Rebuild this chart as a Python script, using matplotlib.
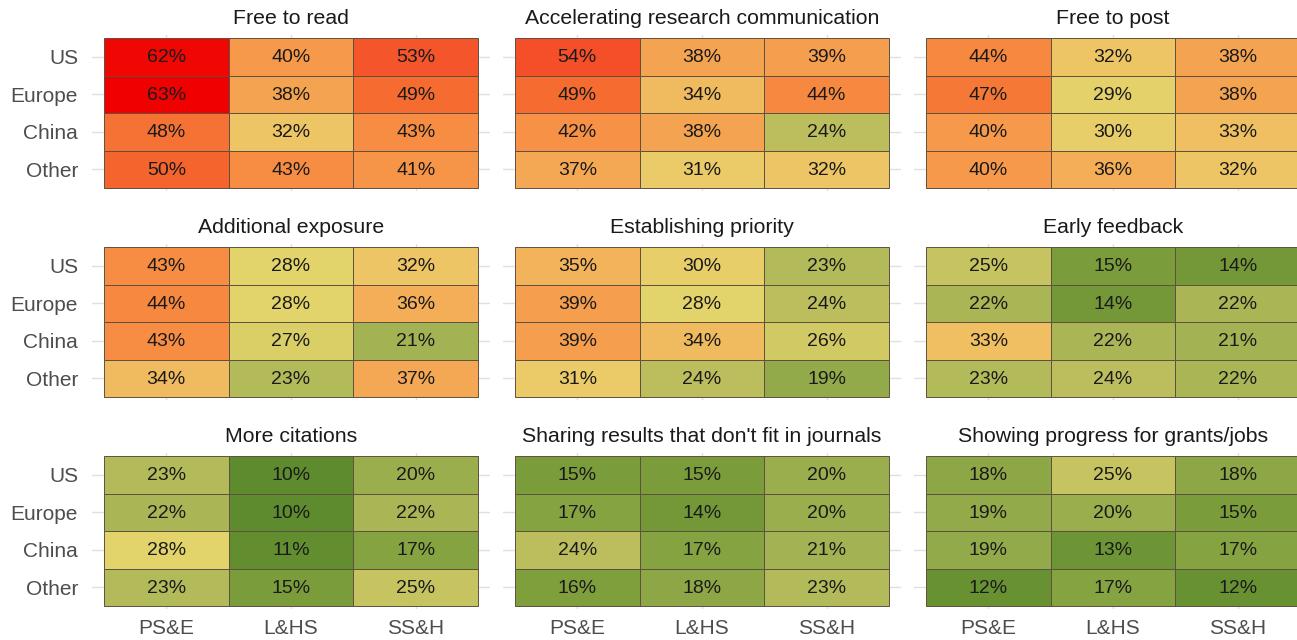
import numpy as np
import matplotlib.pyplot as plt
from matplotlib.colors import LinearSegmentedColormap

plt.rcParams["font.family"] = ["Liberation Sans", "DejaVu Sans"]

regions = ["US", "Europe", "China", "Other"]
fields = ["PS&E", "L&HS", "SS&H"]

titles = [
    "Free to read", "Accelerating research communication", "Free to post",
    "Additional exposure", "Establishing priority", "Early feedback",
    "More citations", "Sharing results that don't fit in journals",
    "Showing progress for grants/jobs",
]

# rows: US, Europe, China, Other; columns: PS&E, L&HS, SS&H
free_to_read = [[62, 40, 53], [63, 38, 49], [48, 32, 43], [50, 43, 41]]
accelerating = [[54, 38, 39], [49, 34, 44], [42, 38, 24], [37, 31, 32]]
free_to_post = [[44, 32, 38], [47, 29, 38], [40, 30, 33], [40, 36, 32]]
exposure = [[43, 28, 32], [44, 28, 36], [43, 27, 21], [34, 23, 37]]
priority = [[35, 30, 23], [39, 28, 24], [39, 34, 26], [31, 24, 19]]
feedback = [[25, 15, 14], [22, 14, 22], [33, 22, 21], [23, 24, 22]]
citations = [[23, 10, 20], [22, 10, 22], [28, 11, 17], [23, 15, 25]]
sharing = [[15, 15, 20], [17, 14, 20], [24, 17, 21], [16, 18, 23]]
progress = [[18, 25, 18], [19, 20, 15], [19, 13, 17], [12, 17, 12]]

panels = [free_to_read, accelerating, free_to_post, exposure, priority,
          feedback, citations, sharing, progress]

vmin, vmax = 10, 63
stops = [(10, "#5e8b2e"), (15, "#7a9c3a"), (20, "#9aae4e"), (24, "#bdbe5e"),
         (28, "#e3d46a"), (31, "#ebcb68"), (35, "#f2b35a"), (40, "#f6994a"),
         (45, "#f7843e"), (50, "#f5652d"), (54, "#f5502a"), (63, "#f00000")]
cmap = LinearSegmentedColormap.from_list(
    "pref", [((v - vmin) / (vmax - vmin), c) for v, c in stops])

W, H = 1297, 640
fig = plt.figure(figsize=(W / 100, H / 100), dpi=100)

col_left = [104, 515, 926]
tile_w = 374
row_top = [38, 247, 456]
tile_h = 150
padx, pady = 12, 3

for i, (title, vals) in enumerate(zip(titles, panels)):
    r, c = divmod(i, 3)
    x0 = col_left[c] - padx
    y0 = row_top[r] - pady
    w = tile_w + 2 * padx
    h = tile_h + 2 * pady
    ax = fig.add_axes([x0 / W, 1 - (y0 + h) / H, w / W, h / H])
    arr = np.array(vals)
    ax.set_xlim(-0.5 - padx / (tile_w / 3), 2.5 + padx / (tile_w / 3))
    ax.set_ylim(3.5 + pady / (tile_h / 4), -0.5 - pady / (tile_h / 4))
    for k in range(3):
        ax.axvline(k, color="#e0e0e0", lw=1, zorder=0)
    for k in range(4):
        ax.axhline(k, color="#e0e0e0", lw=1, zorder=0)
    for ri in range(4):
        for ci in range(3):
            v = arr[ri, ci]
            ax.add_patch(plt.Rectangle((ci - 0.5, ri - 0.5), 1, 1,
                                       facecolor=cmap((v - vmin) / (vmax - vmin)),
                                       edgecolor="#5f5040", lw=0.7, zorder=2))
            ax.text(ci, ri + 0.03, f"{v}%", ha="center", va="center",
                    fontsize=14, color="#1a1a1a", zorder=3)
    for s in ax.spines.values():
        s.set_visible(False)
    ax.tick_params(length=0, labelsize=15, labelcolor="#4d4d4d")
    ax.set_xticks(range(3))
    ax.set_yticks(range(4))
    if r == 2:
        ax.set_xticklabels(fields)
        ax.tick_params(axis="x", pad=7)
    else:
        ax.set_xticklabels([])
    if c == 0:
        ax.set_yticklabels(regions)
        ax.tick_params(axis="y", pad=10)
    else:
        ax.set_yticklabels([])
    ax.set_title(title, fontsize=15.3, color="#1a1a1a", pad=8)

fig.savefig("out.png", dpi=100)
